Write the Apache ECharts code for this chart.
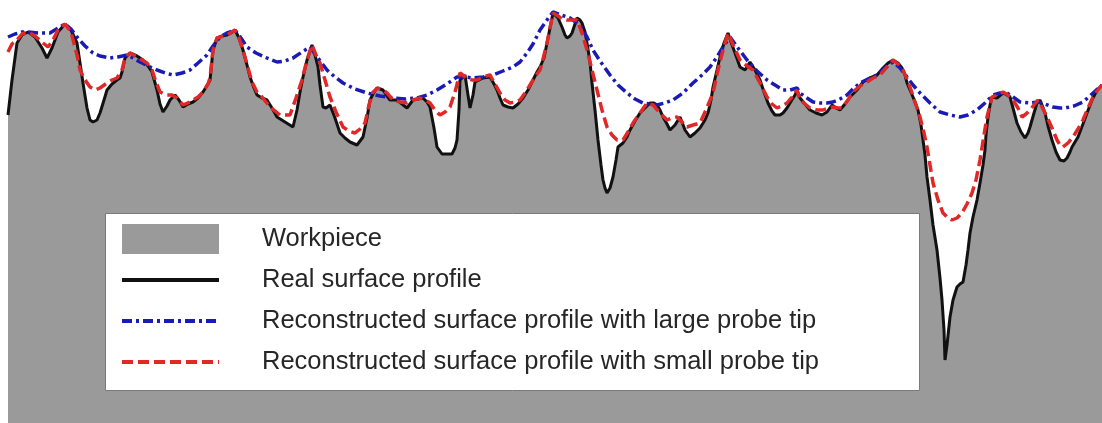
<!DOCTYPE html>
<html>
<head>
<meta charset="utf-8">
<title>Surface profile reconstruction</title>
<script src="https://cdn.jsdelivr.net/npm/echarts@6/dist/echarts.min.js"></script>
<style>
  html, body { margin: 0; padding: 0; background: #ffffff; }
  #chart { width: 1102px; height: 423px; }
</style>
</head>
<body>
<div id="chart"></div>
<script>
// Lateral scan position and depth below the top datum (same units on both axes).
const seriesNames = [
  'Workpiece',
  'Real surface profile',
  'Reconstructed surface profile with large probe tip',
  'Reconstructed surface profile with small probe tip'
];

// Real surface profile [position, depth]
const realProfile = [
  [8,115],[12,80],[17,43],[22,35],[28,32],[35,37],[42,48],[47,58],[52,48],[58,32],[65,24],[71,30],[77,43],[83,83],[87,108],[90,120],[93,122],[97,120],[100,113],[104,100],[107,90],[112,84],[117,80],[120,78],[122,72],[125,58],[130,53],[137,56],[143,60],[148,66],[152,72],[157,90],[160,104],[163,112],[167,106],[170,100],[175,95],[179,100],[183,107],[188,104],[193,102],[198,98],[203,92],[208,84],[210,80],[213,50],[217,38],[222,36],[227,35],[231,33],[235,30],[239,38],[243,50],[247,65],[250,77],[254,88],[257,95],[262,98],[267,100],[272,108],[277,117],[285,122],[293,127],[297,110],[300,92],[303,77],[307,60],[312,45],[315,55],[318,67],[320,85],[323,107],[326,108],[330,105],[335,118],[340,133],[345,138],[350,142],[357,145],[363,137],[367,118],[370,100],[374,92],[377,88],[383,90],[387,96],[390,100],[397,100],[402,104],[407,108],[410,104],[413,100],[418,99],[423,98],[427,102],[430,107],[434,128],[437,147],[442,154],[447,154],[452,154],[455,148],[457,140],[459,110],[460,80],[465,75],[468,95],[470,108],[473,95],[475,82],[479,80],[483,78],[490,77],[494,84],[497,90],[500,98],[503,105],[508,107],[513,108],[518,104],[523,98],[528,90],[533,80],[537,72],[540,67],[544,58],[547,43],[550,28],[553,13],[555,12],[558,18],[562,27],[565,35],[567,38],[570,36],[572,33],[575,24],[577,18],[580,20],[582,23],[585,32],[587,43],[590,62],[592,83],[595,110],[598,140],[601,165],[603,180],[605,188],[607,193],[610,188],[613,177],[616,160],[618,147],[623,143],[627,137],[630,130],[635,121],[640,113],[645,108],[650,103],[654,103],[657,105],[660,110],[663,117],[667,124],[670,130],[675,125],[680,117],[682,122],[685,130],[690,137],[695,133],[700,128],[705,120],[708,113],[711,100],[713,87],[717,70],[720,57],[724,43],[728,33],[731,42],[735,53],[740,67],[745,70],[750,62],[755,70],[760,80],[764,92],[768,103],[772,111],[775,115],[780,115],[783,113],[787,108],[790,103],[795,95],[797,90],[800,98],[805,104],[810,110],[816,113],[822,115],[827,112],[832,105],[836,108],[840,110],[845,104],[850,97],[857,90],[863,82],[870,78],[877,75],[883,68],[888,63],[893,60],[898,63],[902,68],[905,75],[907,83],[910,90],[913,97],[918,110],[921,125],[923,140],[925,155],[927,177],[930,200],[933,225],[937,250],[940,278],[942,300],[944,330],[945,360],[947,345],[950,317],[953,300],[957,287],[960,284],[963,282],[966,265],[968,250],[970,233],[973,217],[977,200],[980,183],[983,165],[985,150],[986,135],[988,117],[990,105],[992,97],[997,98],[1003,93],[1007,95],[1010,97],[1013,108],[1017,123],[1021,132],[1025,138],[1028,133],[1030,127],[1034,113],[1037,103],[1040,100],[1042,105],[1045,113],[1048,126],[1052,140],[1056,152],[1060,160],[1064,161],[1067,158],[1070,152],[1072,147],[1075,142],[1078,137],[1083,124],[1087,113],[1092,100],[1097,90],[1102,85]
];

// Profile traced by the large probe tip
const largeTipProfile = [
  [8,37],[15,34],[22,32],[28,32],[38,33],[50,33],[58,28],[65,24],[71,29],[77,37],[85,46],[93,53],[100,56],[110,58],[118,57],[127,55],[133,58],[140,62],[148,66],[157,70],[165,73],[173,75],[182,73],[190,70],[198,63],[207,55],[213,46],[220,37],[227,33],[235,30],[241,38],[247,47],[256,53],[267,58],[277,62],[285,61],[293,58],[302,52],[310,47],[318,58],[327,70],[335,77],[343,83],[355,89],[367,93],[380,96],[393,98],[405,99],[417,98],[427,95],[437,90],[447,84],[457,77],[465,77],[473,78],[483,77],[493,75],[503,71],[513,67],[520,62],[527,53],[533,44],[540,30],[547,20],[553,12],[561,15],[570,18],[580,25],[587,37],[593,50],[600,61],[610,75],[618,85],[627,93],[635,99],[643,103],[650,104],[657,105],[665,103],[673,100],[683,93],[693,83],[702,75],[710,67],[717,57],[723,47],[730,37],[738,48],[747,60],[757,71],[767,80],[775,85],[783,90],[790,90],[797,88],[800,93],[807,98],[813,102],[820,103],[827,103],[833,102],[840,99],[847,95],[853,89],[860,83],[868,79],[877,75],[885,68],[893,62],[900,68],[907,77],[913,85],[920,93],[930,103],[940,112],[950,115],[960,117],[968,115],[977,110],[985,103],[993,95],[1000,93],[1007,93],[1013,97],[1020,102],[1030,103],[1038,102],[1045,104],[1053,107],[1060,108],[1065,108],[1074,106],[1083,102],[1092,94],[1102,85]
];

// Profile traced by the small probe tip
const smallTipProfile = [
  [8,52],[12,44],[17,40],[22,34],[28,32],[35,36],[43,43],[48,47],[53,40],[58,30],[65,24],[71,32],[77,55],[80,70],[85,80],[90,87],[95,90],[100,88],[107,83],[112,80],[117,78],[122,70],[125,58],[130,53],[137,57],[147,63],[152,70],[156,82],[160,92],[167,95],[172,95],[177,98],[183,105],[190,102],[198,97],[203,92],[208,84],[210,78],[213,50],[217,38],[227,35],[235,30],[239,38],[243,50],[248,68],[252,82],[257,92],[262,97],[270,107],[280,115],[290,115],[296,98],[302,80],[307,60],[312,45],[316,55],[320,63],[325,80],[330,97],[336,112],[343,127],[349,131],[355,133],[360,129],[365,123],[369,105],[373,92],[378,88],[383,90],[387,93],[393,100],[400,102],[407,103],[413,100],[420,98],[425,100],[430,103],[435,110],[440,115],[445,112],[450,107],[455,92],[460,73],[464,76],[467,78],[472,80],[477,80],[483,77],[490,75],[495,84],[500,93],[505,100],[510,103],[515,102],[520,100],[525,93],[530,85],[535,77],[540,70],[542,63],[547,43],[550,28],[553,13],[558,16],[562,19],[567,20],[572,20],[577,20],[582,33],[587,50],[592,70],[597,90],[602,110],[607,127],[612,135],[617,140],[623,140],[628,132],[633,123],[640,113],[647,103],[653,105],[660,113],[667,120],[672,118],[677,117],[682,122],[687,127],[693,125],[700,123],[706,110],[713,93],[718,70],[723,50],[728,33],[734,47],[740,60],[747,66],[753,70],[760,83],[767,97],[772,104],[777,108],[782,106],[787,103],[792,97],[797,90],[800,100],[805,104],[810,108],[817,110],[823,110],[828,108],[833,107],[838,108],[842,108],[848,100],[853,92],[860,86],[867,82],[873,78],[880,75],[886,68],[893,60],[898,64],[903,70],[907,79],[910,87],[915,102],[920,117],[924,133],[927,147],[930,165],[933,183],[938,200],[943,213],[948,218],[952,220],[957,218],[962,213],[967,204],[972,193],[976,180],[980,160],[984,135],[987,117],[990,105],[992,97],[997,95],[1003,92],[1008,95],[1013,100],[1018,108],[1022,117],[1026,114],[1030,110],[1034,105],[1038,100],[1042,107],[1047,117],[1052,128],[1057,140],[1060,145],[1063,147],[1068,143],[1073,137],[1078,129],[1083,120],[1088,108],[1093,97],[1097,91],[1102,85]
];

const GRAY = '#9a9a9a';
const BLACK = '#111111';
const BLUE = '#1a1ab4';
const RED = '#e02828';
const BLUE_DASH = [10, 4, 3, 4];
const RED_DASH = [11, 5];

// legend keys for the line series: a plain stroke, no marker
const hiddenMarker = { color: 'transparent', borderWidth: 0, opacity: 0 };

const chart = echarts.init(document.getElementById('chart'), null, { renderer: 'canvas' });

chart.setOption({
  animation: false,
  backgroundColor: '#ffffff',
  grid: { left: 0, right: 0, top: 0, bottom: 0 },
  xAxis: { type: 'value', min: 0, max: 1102, show: false },
  yAxis: { type: 'value', min: 0, max: 423, inverse: true, show: false },
  legend: {
    orient: 'vertical',
    left: 120,
    top: 224,
    padding: 0,
    itemWidth: 97,
    itemHeight: 30,
    itemGap: 11,
    selectedMode: false,
    textStyle: {
      fontFamily: 'Liberation Sans, Arial, sans-serif',
      fontSize: 25.5,
      color: '#262626',
      lineHeight: 30,
      padding: [0, 0, 0, 38]
    },
    data: [
      { name: seriesNames[0], icon: 'rect', itemStyle: { color: GRAY } },
      { name: seriesNames[1], itemStyle: hiddenMarker,
        lineStyle: { width: 4, color: BLACK, type: 'solid' } },
      { name: seriesNames[2], itemStyle: hiddenMarker,
        lineStyle: { width: 4, color: BLUE, type: BLUE_DASH } },
      { name: seriesNames[3], itemStyle: hiddenMarker,
        lineStyle: { width: 4, color: RED, type: RED_DASH } }
    ]
  },
  graphic: {
    elements: [{
      type: 'rect',
      z: 3,
      silent: true,
      shape: { x: 105.5, y: 213.5, width: 814, height: 177 },
      style: { fill: '#ffffff', stroke: '#7a7a7a', lineWidth: 1 }
    }]
  },
  series: [
    {
      name: seriesNames[0],
      type: 'line',
      data: realProfile,
      symbol: 'none',
      silent: true,
      itemStyle: { color: GRAY },
      lineStyle: { width: 0, color: GRAY },
      areaStyle: { color: GRAY, opacity: 1, origin: 'end' },
      z: 1
    },
    {
      name: seriesNames[1],
      type: 'line',
      data: realProfile,
      symbol: 'none',
      silent: true,
      itemStyle: { color: BLACK },
      lineStyle: { width: 3, color: BLACK },
      z: 2
    },
    {
      name: seriesNames[2],
      type: 'line',
      data: largeTipProfile,
      symbol: 'none',
      silent: true,
      itemStyle: { color: BLUE },
      lineStyle: { width: 3.5, color: BLUE, type: BLUE_DASH },
      z: 2
    },
    {
      name: seriesNames[3],
      type: 'line',
      data: smallTipProfile,
      symbol: 'none',
      silent: true,
      itemStyle: { color: RED },
      lineStyle: { width: 3.5, color: RED, type: RED_DASH },
      z: 2
    }
  ]
});
</script>
</body>
</html>
